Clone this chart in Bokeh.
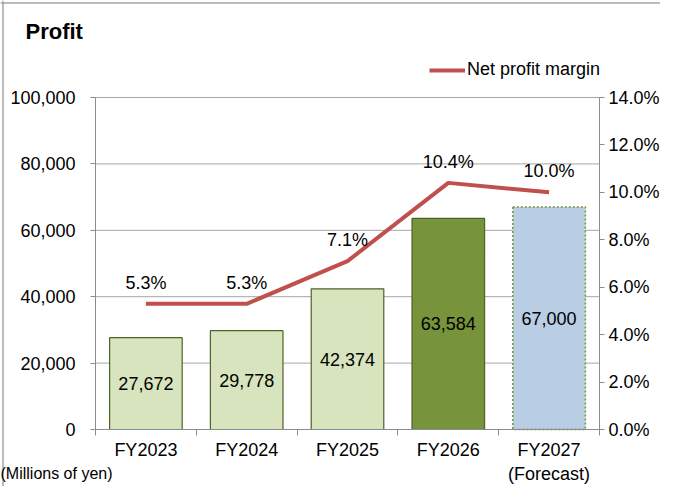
from bokeh.plotting import figure
from bokeh.models import (Range1d, LinearAxis, FixedTicker, NumeralTickFormatter,
                          PrintfTickFormatter, Label, Legend, LegendItem, ColumnDataSource, Span)
from bokeh.core.properties import value
from bokeh.embed import file_html
from bokeh.resources import INLINE

categories = ["FY2023", "FY2024", "FY2025", "FY2026", "FY2027"]
axis_labels = ["FY2023", "FY2024", "FY2025", "FY2026", "FY2027\n(Forecast)"]
profit = [27672, 29778, 42374, 63584, 67000]
margin_pct = [5.3, 5.3, 7.1, 10.4, 10.0]
is_forecast = [False, False, False, False, True]
bar_fill = ["#D7E4BD", "#D7E4BD", "#D7E4BD", "#77933C", "#B9CDE5"]
bar_line = ["#4F6228", "#4F6228", "#4F6228", "#4F6228", "#77933C"]
left_ticks = [0, 20000, 40000, 60000, 80000, 100000]
right_ticks = [0, 2, 4, 6, 8, 10, 12, 14]

FONT = "Liberation Sans"
GRAY = "#8C8C8C"
GRID = "#A6A6A6"

# layout (canvas pixels); the frame fills the whole canvas, axes are pinned inside it
W, H = 660, 486
X0, X1 = 95, 599      # pixel x of category-axis start / end
Y0, YT = 429, 97      # pixel y of value 0 / top tick
n = len(categories)


def xd(px):
    return (px - X0) / (X1 - X0) * n


def yd(px):
    return (Y0 - px) / (Y0 - YT) * left_ticks[-1]


def pd(px):
    return yd(px) * right_ticks[-1] / left_ticks[-1]


xs = [i + 0.5 for i in range(n)]

p = figure(width=W, height=H, output_backend="svg", toolbar_location=None,
           x_range=Range1d(xd(0), xd(W)), y_range=Range1d(yd(H), yd(0)),
           min_border=0, min_border_left=0, min_border_right=0,
           min_border_top=0, min_border_bottom=0)
p.outline_line_color = None
p.background_fill_color = "white"
p.border_fill_color = "white"
p.extra_y_ranges = {"pct": Range1d(pd(H), pd(0))}
p.xgrid.visible = False
p.ygrid.visible = False

# outer chart border (top and left edges)
p.add_layout(Span(location=xd(2.5), dimension="height", line_color=GRID, line_width=1.5))
p.add_layout(Span(location=yd(2.5), dimension="width", line_color=GRID, line_width=1.5))

# horizontal grid lines between the two value axes
grid_ticks = [t for t in left_ticks if t > 0]
p.segment(x0=[0] * len(grid_ticks), x1=[n] * len(grid_ticks), y0=grid_ticks, y1=grid_ticks,
          line_color=GRID, line_width=1)

# left axis
ya = p.yaxis[0]
ya.fixed_location = 0
ya.ticker = FixedTicker(ticks=left_ticks)
ya.formatter = NumeralTickFormatter(format="0,0")
ya.bounds = (left_ticks[0], left_ticks[-1])
ya.axis_line_color = GRAY
ya.major_tick_line_color = GRAY
ya.major_tick_in = 0
ya.major_tick_out = 5
ya.minor_tick_line_color = None
ya.major_label_text_font = FONT
ya.major_label_text_font_size = "18px"
ya.major_label_text_color = "black"
ya.major_label_standoff = 15

# right axis
ra = LinearAxis(y_range_name="pct", ticker=FixedTicker(ticks=right_ticks),
                formatter=PrintfTickFormatter(format="%.1f%%"))
ra.fixed_location = n
ra.bounds = (right_ticks[0], right_ticks[-1])
ra.axis_line_color = GRAY
ra.major_tick_line_color = GRAY
ra.major_tick_in = 0
ra.major_tick_out = 5
ra.minor_tick_line_color = None
ra.major_label_text_font = FONT
ra.major_label_text_font_size = "18px"
ra.major_label_text_color = "black"
ra.major_label_standoff = 4
p.add_layout(ra, "right")

# bottom axis
xa = p.xaxis[0]
xa.fixed_location = 0
xa.bounds = (0, n)
xa.ticker = FixedTicker(ticks=xs, minor_ticks=list(range(n + 1)))
xa.major_label_overrides = {x: lab for x, lab in zip(xs, axis_labels)}
xa.axis_line_color = GRAY
xa.major_tick_line_color = None
xa.major_tick_in = 0
xa.major_tick_out = 6
xa.minor_tick_line_color = GRAY
xa.minor_tick_in = 0
xa.minor_tick_out = 6
xa.major_label_text_font = FONT
xa.major_label_text_font_size = "18px"
xa.major_label_text_color = "black"
xa.major_label_standoff = 4

# bars
def pick(seq, flag):
    return [v for v, f in zip(seq, is_forecast) if f == flag]

for flag, dash, lw in ((False, "solid", 1.2), (True, "2 2", 1.5)):
    src = ColumnDataSource(dict(x=pick(xs, flag), top=pick(profit, flag),
                                fill=pick(bar_fill, flag), line=pick(bar_line, flag)))
    p.vbar(x="x", top="top", width=0.72, source=src, fill_color="fill",
           line_color="line", line_width=lw, line_dash=dash)

# bar value labels
p.text(x=xs, y=[v / 2 for v in profit], text=[f"{v:,}" for v in profit],
       text_font=value(FONT), text_font_size="18px", text_color="black",
       text_align="center", text_baseline="middle")

# margin line
line_r = p.line(x=xs, y=margin_pct, y_range_name="pct", line_color="#C0504D",
                line_width=4)
p.text(x=xs, y=margin_pct, y_range_name="pct", text=[f"{m:.1f}%" for m in margin_pct],
       text_font=value(FONT), text_font_size="18px", text_color="black",
       text_align="center", text_baseline="middle", y_offset=-21)

legend = Legend(items=[LegendItem(label="Net profit margin", renderers=[line_r])],
                location=(X1 - 170, H - 80), orientation="horizontal")
legend.glyph_width = 36
legend.glyph_height = 20
legend.label_height = 20
legend.label_standoff = 2
legend.padding = 0
legend.margin = 0
legend.spacing = 0
legend.border_line_color = None
legend.background_fill_alpha = 0
legend.label_text_font = FONT
legend.label_text_font_size = "18px"
legend.label_text_color = "black"
p.add_layout(legend, "center")

# title and unit note
p.add_layout(Label(x=xd(25), y=yd(31), text="Profit",
                   text_font=FONT, text_font_size="22px", text_font_style="bold",
                   text_color="black", text_baseline="middle"))
p.add_layout(Label(x=xd(0), y=yd(473), text="(Millions of yen)",
                   text_font=FONT, text_font_size="16px",
                   text_color="black", text_baseline="middle"))

open("out.html", "w").write(file_html(p, INLINE))
